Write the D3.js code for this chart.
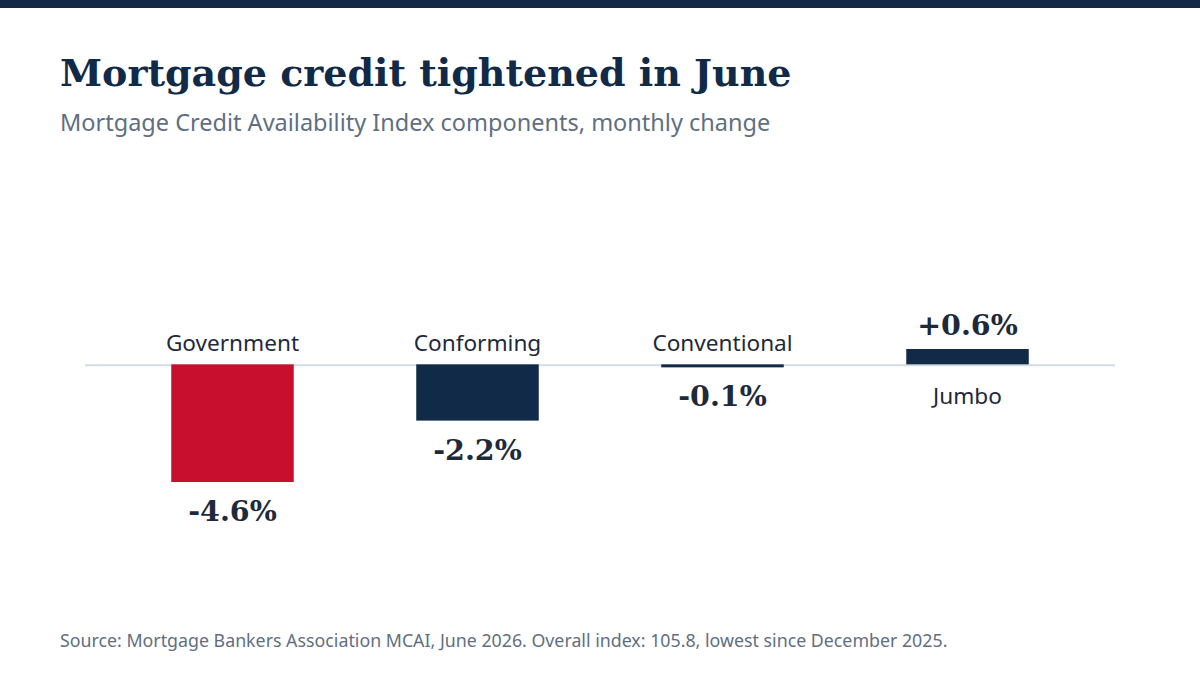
<!DOCTYPE html>
<html><head><meta charset="utf-8">
<script src="https://cdn.jsdelivr.net/npm/d3@7"></script>
<style>
html,body{margin:0;padding:0;background:#fff;}
svg{display:block;}
</style></head>
<body>
<svg id="chart" width="1200" height="675"></svg>
<script>
const categories = ["Government", "Conforming", "Conventional", "Jumbo"];
const values = [-4.6, -2.2, -0.1, 0.6];
const valueLabels = ["-4.6%", "-2.2%", "-0.1%", "+0.6%"];
const barColors = ["#c8102e", "#112a47", "#112a47", "#112a47"];

const W = 1200, H = 675;
const svg = d3.select("#chart");
const navy = "#112a47";
const serif = "Georgia, 'DejaVu Serif', serif";
const sans = "'Noto Sans', 'Open Sans', sans-serif";

svg.append("rect").attr("x",0).attr("y",0).attr("width",W).attr("height",8).attr("fill",navy);

svg.append("text").attr("x",60).attr("y",86).text("Mortgage credit tightened in June")
  .attr("font-family",serif).attr("font-weight","bold").attr("font-size",38).attr("fill",navy);
svg.append("text").attr("x",60).attr("y",131).text("Mortgage Credit Availability Index components, monthly change")
  .attr("font-family",sans).attr("font-size",23.5).attr("fill","#5f6f82");

const x = d3.scaleBand().domain(categories).range([110,1090]).paddingInner(0.5).paddingOuter(0.25);
const y = d3.scaleLinear().domain([-4.6, 0.6]).range([482, 349]);

const data = categories.map((c,i)=>({c, v: values[i], label: valueLabels[i], color: barColors[i]}));

svg.append("line").attr("x1",85).attr("x2",1115).attr("y1",y(0)+1).attr("y2",y(0)+1)
  .attr("stroke","#d3dbe3").attr("stroke-width",2);

svg.selectAll("rect.bar").data(data).join("rect").attr("class","bar")
  .attr("x",d=>x(d.c)).attr("width",x.bandwidth())
  .attr("y",d=>Math.min(y(d.v),y(0)))
  .attr("height",d=>Math.max(Math.abs(y(d.v)-y(0)),3))
  .attr("fill",d=>d.color);

// category labels
svg.selectAll("text.cat").data(data).join("text").attr("class","cat")
  .attr("x",d=>x(d.c)+x.bandwidth()/2)
  .attr("y",d=> d.v<0 ? y(0)-13 : y(0)+40)
  .attr("text-anchor","middle").attr("font-family",sans).attr("font-size",22.6).attr("fill","#1e2a3a")
  .text(d=>d.c);

// value labels
svg.selectAll("text.val").data(data).join("text").attr("class","val")
  .attr("x",d=>x(d.c)+x.bandwidth()/2)
  .attr("y",d=> d.v<0 ? Math.max(y(d.v), y(0)+3)+39 : y(d.v)-14)
  .attr("text-anchor","middle").attr("font-family",serif).attr("font-weight","bold").attr("font-size",28.5).attr("fill","#1e2a3a")
  .text(d=>d.label);

svg.append("text").attr("x",60).attr("y",647)
  .text("Source: Mortgage Bankers Association MCAI, June 2026. Overall index: 105.8, lowest since December 2025.")
  .attr("font-family",sans).attr("font-size",17.8).attr("fill","#5f6f82");
</script>
</body></html>
